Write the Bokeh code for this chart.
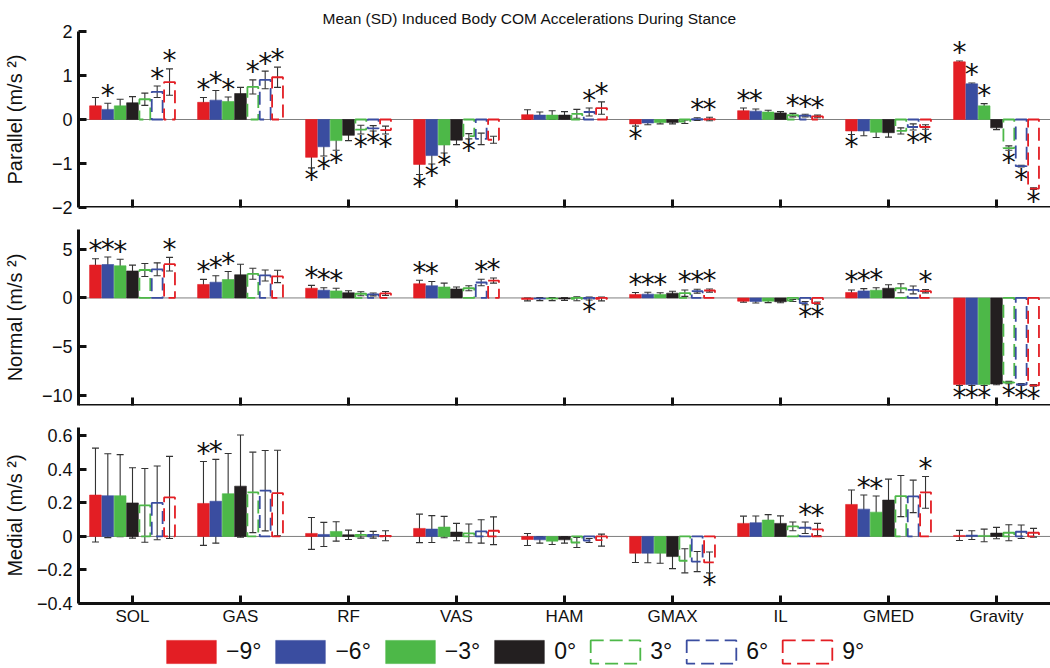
import numpy as np
from bokeh.plotting import figure
from bokeh.models import (ColumnDataSource, Whisker, TeeHead, Span, Range1d,
                          FixedTicker, Legend, LegendItem)
from bokeh.layouts import column
from bokeh.embed import file_html
from bokeh.resources import INLINE
from bokeh.core.properties import value

# ---------------- data ----------------
muscles = ["SOL", "GAS", "RF", "VAS", "HAM", "GMAX", "IL", "GMED", "Gravity"]
conditions = ["\u22129\u00b0", "\u22126\u00b0", "\u22123\u00b0", "0\u00b0", "3\u00b0", "6\u00b0", "9\u00b0"]
cond_colors = ["#E31E24", "#3A4DA0", "#4DB848", "#231F20", "#4DB848", "#3A4DA0", "#E31E24"]
cond_dashed = [False, False, False, False, True, True, True]

# rows = conditions (-9, -6, -3, 0, 3, 6, 9), columns = muscles
par_mean = [
    [0.31, 0.39, -0.86, -1.02, 0.11, -0.10, 0.20, -0.26, 1.31],
    [0.23, 0.44, -0.62, -0.82, 0.10, -0.08, 0.19, -0.26, 0.81],
    [0.31, 0.41, -0.48, -0.58, 0.10, -0.07, 0.17, -0.29, 0.31],
    [0.38, 0.59, -0.36, -0.47, 0.10, -0.07, 0.15, -0.30, -0.19],
    [0.46, 0.74, -0.23, -0.38, 0.13, -0.05, 0.10, -0.26, -0.65],
    [0.63, 0.90, -0.20, -0.44, 0.17, 0.01, 0.09, -0.17, -1.06],
    [0.85, 0.96, -0.24, -0.46, 0.26, 0.01, 0.07, -0.17, -1.57],
]
par_sd = [
    [0.19, 0.11, 0.24, 0.23, 0.11, 0.05, 0.06, 0.08, 0.02],
    [0.14, 0.22, 0.21, 0.19, 0.07, 0.04, 0.05, 0.11, 0.02],
    [0.15, 0.10, 0.22, 0.18, 0.10, 0.03, 0.04, 0.12, 0.05],
    [0.14, 0.14, 0.12, 0.10, 0.08, 0.03, 0.03, 0.10, 0.04],
    [0.14, 0.16, 0.10, 0.06, 0.10, 0.04, 0.04, 0.07, 0.05],
    [0.13, 0.20, 0.06, 0.13, 0.09, 0.03, 0.03, 0.07, 0.02],
    [0.30, 0.23, 0.09, 0.08, 0.14, 0.04, 0.03, 0.05, 0.02],
]
par_sig = [
    [0, 1, 1, 1, 0, 1, 1, 1, 1],
    [1, 1, 1, 1, 0, 0, 1, 0, 1],
    [0, 1, 1, 1, 0, 0, 0, 0, 1],
    [0, 0, 0, 0, 0, 0, 0, 0, 0],
    [0, 1, 1, 1, 0, 0, 1, 0, 1],
    [1, 1, 1, 0, 1, 1, 1, 1, 1],
    [1, 1, 1, 0, 1, 1, 1, 1, 1],
]

nor_mean = [
    [3.36, 1.38, 0.99, 1.45, -0.15, 0.36, -0.33, 0.56, -8.85],
    [3.42, 1.61, 0.79, 1.25, -0.12, 0.39, -0.36, 0.72, -8.85],
    [3.29, 1.88, 0.72, 1.12, -0.12, 0.36, -0.33, 0.79, -8.85],
    [2.76, 2.37, 0.53, 0.92, -0.10, 0.49, -0.39, 0.99, -8.80],
    [2.86, 2.47, 0.43, 0.99, -0.08, 0.49, -0.26, 0.99, -8.65],
    [2.93, 2.30, 0.36, 1.58, -0.06, 0.69, -0.53, 0.82, -8.85],
    [3.45, 2.20, 0.46, 1.78, -0.10, 0.76, -0.53, 0.69, -8.95],
]
nor_sd = [
    [0.65, 0.52, 0.30, 0.36, 0.15, 0.20, 0.10, 0.26, 0.10],
    [0.76, 0.66, 0.26, 0.43, 0.15, 0.20, 0.15, 0.23, 0.10],
    [0.66, 0.82, 0.27, 0.40, 0.15, 0.17, 0.15, 0.26, 0.10],
    [0.60, 1.08, 0.20, 0.20, 0.15, 0.20, 0.10, 0.36, 0.08],
    [0.66, 0.56, 0.20, 0.26, 0.20, 0.33, 0.10, 0.46, 0.12],
    [0.66, 0.56, 0.15, 0.33, 0.15, 0.20, 0.16, 0.40, 0.10],
    [0.70, 0.63, 0.20, 0.26, 0.20, 0.16, 0.12, 0.17, 0.08],
]
nor_sig = [
    [1, 1, 1, 1, 0, 1, 0, 1, 1],
    [1, 1, 1, 1, 0, 1, 0, 1, 1],
    [1, 1, 1, 0, 0, 1, 0, 1, 1],
    [0, 0, 0, 0, 0, 0, 0, 0, 0],
    [0, 0, 0, 0, 0, 1, 0, 0, 1],
    [0, 0, 0, 1, 1, 1, 1, 0, 1],
    [1, 0, 0, 1, 0, 1, 1, 1, 1],
]

med_mean = [
    [0.247, 0.197, 0.018, 0.048, -0.018, -0.100, 0.078, 0.191, 0.006],
    [0.243, 0.210, 0.012, 0.044, -0.020, -0.100, 0.082, 0.163, 0.008],
    [0.243, 0.255, 0.030, 0.056, -0.028, -0.100, 0.098, 0.145, 0.006],
    [0.200, 0.300, 0.010, 0.026, -0.020, -0.120, 0.078, 0.217, 0.020],
    [0.185, 0.263, 0.010, 0.018, -0.036, -0.145, 0.060, 0.241, 0.022],
    [0.200, 0.273, 0.010, 0.030, -0.024, -0.150, 0.052, 0.239, 0.028],
    [0.233, 0.259, 0.004, 0.034, -0.022, -0.155, 0.042, 0.263, 0.022],
]
med_sd = [
    [0.280, 0.250, 0.095, 0.085, 0.036, 0.055, 0.043, 0.086, 0.030],
    [0.250, 0.250, 0.072, 0.080, 0.020, 0.057, 0.040, 0.084, 0.026],
    [0.245, 0.240, 0.058, 0.064, 0.020, 0.060, 0.032, 0.096, 0.038],
    [0.210, 0.305, 0.028, 0.052, 0.020, 0.072, 0.045, 0.125, 0.034],
    [0.220, 0.240, 0.020, 0.056, 0.030, 0.072, 0.026, 0.123, 0.048],
    [0.220, 0.240, 0.020, 0.070, 0.012, 0.060, 0.034, 0.097, 0.040],
    [0.245, 0.255, 0.030, 0.083, 0.036, 0.062, 0.036, 0.095, 0.026],
]
med_sig = [
    [0, 1, 0, 0, 0, 0, 0, 0, 0],
    [0, 1, 0, 0, 0, 0, 0, 1, 0],
    [0, 0, 0, 0, 0, 0, 0, 1, 0],
    [0, 0, 0, 0, 0, 0, 0, 0, 0],
    [0, 0, 0, 0, 0, 0, 0, 0, 0],
    [0, 0, 0, 0, 0, 0, 1, 0, 0],
    [0, 0, 0, 0, 0, 1, 1, 1, 0],
]

title_text = "Mean (SD) Induced Body COM Accelerations During Stance"
par_label = "Parallel (m/s \u00b2)"
nor_label = "Normal (m/s \u00b2)"
med_label = "Medial (m/s \u00b2)"
par_ticks = [-2, -1, 0, 1, 2]
nor_ticks = [-10, -5, 0, 5]
med_ticks = [-0.4, -0.2, 0, 0.2, 0.4, 0.6]

# ---------------- drawing ----------------
FONT = "Liberation Sans"
SLOT = 0.8 / 7
W = 1050
INK = "#111111"


def fmt(t):
    return ("%g" % t).replace("-", "\u2212")


def bar_style(k):
    col = cond_colors[k]
    if cond_dashed[k]:
        return dict(fill_alpha=0, line_color=col, line_width=1.8, line_dash="13 6")
    return dict(fill_color=col, line_color=col, line_width=0.6)


def make_panel(mean, sd, sig, ylabel, yrange, yticks, lab_standoff,
               height, b_top, b_bottom, show_x):
    p = figure(width=W, height=height, x_range=Range1d(0.5, 9.5),
               y_range=Range1d(*yrange), output_backend="svg",
               toolbar_location=None, min_border_left=77, min_border_right=0,
               min_border_top=b_top, min_border_bottom=b_bottom)
    p.outline_line_color = None
    p.xgrid.visible = False
    p.ygrid.visible = False

    p.add_layout(Span(location=0, dimension="width", line_color="#7f7f7f",
                      line_width=1, level="underlay"))

    base = np.arange(1, len(muscles) + 1, dtype=float)
    for k in range(len(conditions)):
        xs = base + (k - 3) * SLOT
        m = np.array(mean[k], dtype=float)
        s = np.array(sd[k], dtype=float)
        wdt = SLOT * (0.88 if cond_dashed[k] else 0.95)
        p.vbar(x=xs, top=m, bottom=0, width=wdt, **bar_style(k))

        src = ColumnDataSource(dict(base=xs, upper=m + s, lower=m - s))
        w = Whisker(source=src, base="base", upper="upper", lower="lower",
                    line_color="#333333", line_width=1.1,
                    upper_head=TeeHead(size=7, line_color="#333333", line_width=1.1),
                    lower_head=TeeHead(size=7, line_color="#333333", line_width=1.1))
        p.add_layout(w)

        flags = np.array(sig[k]) == 1
        up = flags & (m >= 0)
        dn = flags & (m < 0)
        if up.any():
            p.text(x=xs[up], y=(m + s)[up], text=["*"] * int(up.sum()),
                   text_font=value("DejaVu Sans"), text_font_size="28px",
                   text_align="center", text_baseline="alphabetic",
                   y_offset=-8, text_color=INK)
        if dn.any():
            p.text(x=xs[dn], y=(m - s)[dn], text=["*"] * int(dn.sum()),
                   text_font=value("DejaVu Sans"), text_font_size="28px",
                   text_align="center", text_baseline="alphabetic",
                   y_offset=12, text_color=INK)

    if show_x:
        xa = p.xaxis[0]
        xa.ticker = FixedTicker(ticks=list(base))
        xa.major_label_overrides = {float(i + 1): mname for i, mname in enumerate(muscles)}
        xa.axis_line_width = 3
        xa.axis_line_color = INK
        xa.major_tick_in = 8
        xa.major_tick_out = 0
        xa.major_tick_line_width = 3
        xa.major_tick_line_color = INK
        xa.minor_tick_line_color = None
        xa.major_label_text_font = FONT
        xa.major_label_text_font_size = "17px"
        xa.major_label_text_color = INK
        xa.major_label_standoff = 3
    else:
        p.xaxis.visible = False
        p.add_layout(Span(location=yrange[0], dimension="width",
                          line_color=INK, line_width=3))
        p.scatter(x=base, y=[yrange[0]] * len(base), marker="dash",
                  angle=np.pi / 2, size=16, line_width=3, line_color=INK)

    ya = p.yaxis[0]
    ya.ticker = FixedTicker(ticks=yticks)
    ya.major_label_overrides = {t: fmt(t) for t in yticks}
    ya.axis_line_width = 3
    ya.axis_line_color = INK
    ya.major_tick_in = 8
    ya.major_tick_out = 0
    ya.major_tick_line_width = 3
    ya.major_tick_line_color = INK
    ya.minor_tick_line_color = None
    ya.major_label_text_font = FONT
    ya.major_label_text_font_size = "18px"
    ya.major_label_text_color = INK
    ya.major_label_standoff = 6
    ya.axis_label = ylabel
    ya.axis_label_text_font = FONT
    ya.axis_label_text_font_size = "20px"
    ya.axis_label_text_font_style = "normal"
    ya.axis_label_text_color = INK
    ya.axis_label_standoff = lab_standoff
    return p


p1 = make_panel(par_mean, par_sd, par_sig, par_label, (-2, 2), par_ticks, 23,
                218, 31, 11, False)
p1.title.text = title_text
p1.title.align = "left"
p1.title.offset = 244
p1.title.text_font = FONT
p1.title.text_font_size = "15.5px"
p1.title.text_font_style = "normal"
p1.title.text_color = INK
p1.title.standoff = 10

p2 = make_panel(nor_mean, nor_sd, nor_sig, nor_label, (-11, 7), nor_ticks, 13,
                198, 11, 11, False)
p3 = make_panel(med_mean, med_sd, med_sig, med_label, (-0.4, 0.65), med_ticks, 8,
                217, 11, 30, True)

# legend strip (legend-only renderers with no drawable data)
p4 = figure(width=W, height=35, x_range=Range1d(0, 1), y_range=Range1d(0, 1),
            output_backend="svg", toolbar_location=None,
            min_border_left=0, min_border_right=0, min_border_top=0, min_border_bottom=0)
p4.axis.visible = False
p4.xgrid.visible = False
p4.ygrid.visible = False
p4.outline_line_color = None
leg_r = []
for k in range(len(conditions)):
    src = ColumnDataSource(dict(x=[np.nan], top=[np.nan]))
    leg_r.append(p4.vbar(x="x", top="top", bottom=0, width=0.1, source=src,
                         **bar_style(k)))

legend = Legend(items=[LegendItem(label=conditions[k], renderers=[leg_r[k]])
                       for k in range(len(conditions))],
                orientation="horizontal", location=(82, 2),
                glyph_width=62, glyph_height=29, label_standoff=4, spacing=8,
                padding=0, margin=0, border_line_color=None,
                background_fill_alpha=0,
                label_text_font=FONT, label_text_font_size="23px",
                label_text_color=INK)
p4.add_layout(legend)

layout = column(p1, p2, p3, p4, spacing=0)
open("out.html", "w").write(file_html(layout, INLINE))
